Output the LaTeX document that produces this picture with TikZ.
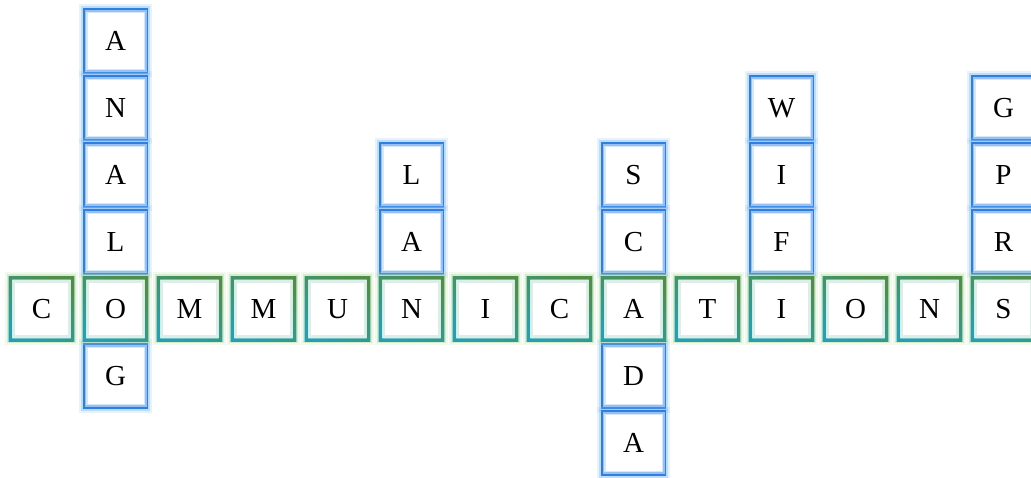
\documentclass[tikz,border=0pt]{standalone}
\usepackage{fontspec}
\setmainfont{Liberation Serif}
\usepackage{xcolor}
\usetikzlibrary{calc, positioning}

\definecolor{cellblue}{HTML}{2F7FE0}
\definecolor{glowblue}{HTML}{8CC0F5}
\definecolor{tintblue}{HTML}{C4DDF8}
\definecolor{cellteal}{HTML}{24A0B0}
\definecolor{cellgreen}{HTML}{4E8E4A}
\definecolor{glowgreen}{HTML}{B8DCA8}
\definecolor{tintgreen}{HTML}{CFE8DF}

\tikzset{
    cell/.style={minimum size=62pt, inner sep=0pt, fill=white,
        font=\fontsize{29}{32}\selectfont},
    vcell/.style={cell, draw=cellblue, line width=3.5pt,
        preaction={draw=glowblue, line width=11pt, opacity=0.2},
        preaction={draw=glowblue, line width=7pt, opacity=0.45}},
    hcell/.style={cell,
        preaction={draw=glowgreen, line width=11pt, opacity=0.2},
        preaction={draw=glowgreen, line width=7pt, opacity=0.45}},
    tint/.style={line width=3pt, opacity=0.7}
}

\begin{document}
\begin{tikzpicture}[x=1pt, y=1pt]
    \useasboundingbox (0,0) rectangle (1031,477);

    % 1. Vertical words (blue cells)
    \foreach \ch/\c/\r [count=\k] in {A/1/0, N/1/1, A/1/2, L/1/3, G/1/5,
            L/5/2, A/5/3,
            S/8/2, C/8/3, D/8/5, A/8/6,
            W/10/1, I/10/2, F/10/3,
            G/13/1, P/13/2, R/13/3}
        \node[vcell] (v\k) at ({41.5+74*\c}, {436-67*\r}) {\ch};

    % 2. Horizontal word COMMUNICATIONS
    \foreach \ch [count=\i from 0] in {C,O,M,M,U,N,I,C,A,T,I,O,N,S}
        \node[hcell] (h\i) at ({41.5+74*\i}, 168) {\ch};

    % 3. Teal-to-green frames of the horizontal cells
    \foreach \i in {0,...,13}
        \shade[even odd rule, bottom color=cellteal, top color=cellgreen,
               shading angle=-30]
            ([shift={(-1.75,-1.75)}]h\i.south west)
                rectangle ([shift={(1.75,1.75)}]h\i.north east)
            ([shift={(1.75,1.75)}]h\i.south west)
                rectangle ([shift={(-1.75,-1.75)}]h\i.north east);

    % 4. Light inner rims
    \foreach \k in {1,...,17}
        \draw[tint, tintblue] ([shift={(3.25,3.25)}]v\k.south west)
            rectangle ([shift={(-3.25,-3.25)}]v\k.north east);
    \foreach \i in {0,...,13}
        \draw[tint, tintgreen] ([shift={(3.25,3.25)}]h\i.south west)
            rectangle ([shift={(-3.25,-3.25)}]h\i.north east);
\end{tikzpicture}
\end{document}
